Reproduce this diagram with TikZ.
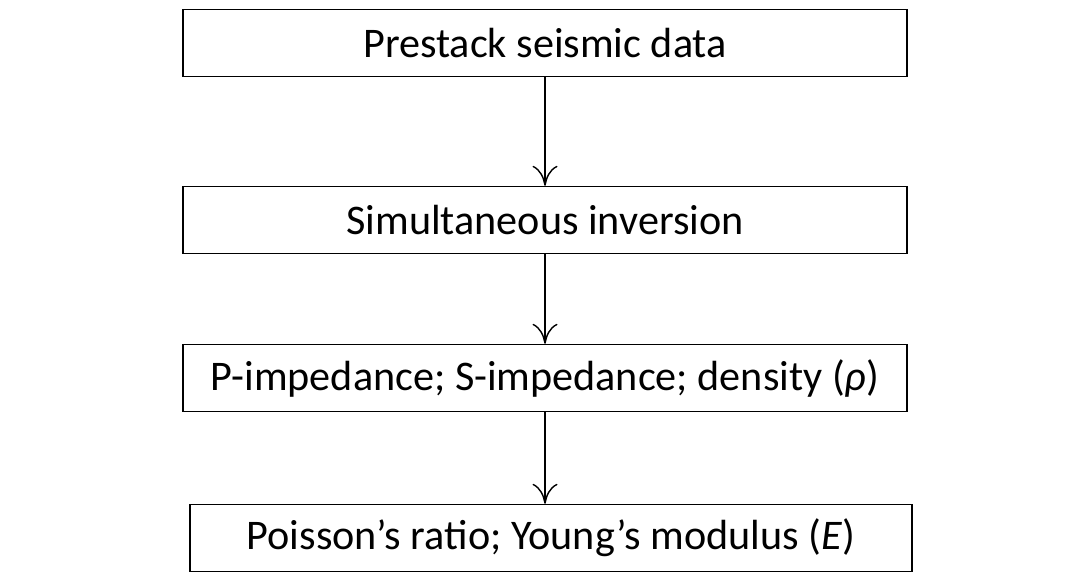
\documentclass[tikz,border=0pt]{standalone}
\usepackage{fontspec}
\setmainfont{Carlito}
\usetikzlibrary{positioning,arrows.meta}
\tikzset {
    stage box/.style={
        draw=black,
        thick,
        rectangle, % Set the shape as a rectangle
        minimum width=14.48cm,
        minimum height=1.34cm,
        align=center,
        font=\fontsize{24}{28}\selectfont,
    },
}
\begin{document}
\begin{tikzpicture}
\useasboundingbox (0,0) rectangle (21.8,-11.6);
\node[stage box] at (10.9, -0.86) (prestack) {Prestack seismic data};
\node[stage box] at (10.9, -4.4) (inversion) {Simultaneous inversion};
\node[stage box] at (10.9, -7.56) (impedance) {P-impedance; S-impedance; density (\textit{ρ})};
\node[stage box, minimum width=14.44cm] at (11.02, -10.76) (moduli) {Poisson’s ratio; Young’s modulus (\textit{E})};

\draw[thick, -{To[length=4mm,width=5mm]}] (prestack) -- (inversion);
\draw[thick, -{To[length=4mm,width=5mm]}] (inversion) -- (impedance);
\draw[thick, -{To[length=4mm,width=5mm]}] (impedance.south) -- (moduli.north -| impedance.south);
\end{tikzpicture}
\end{document}
